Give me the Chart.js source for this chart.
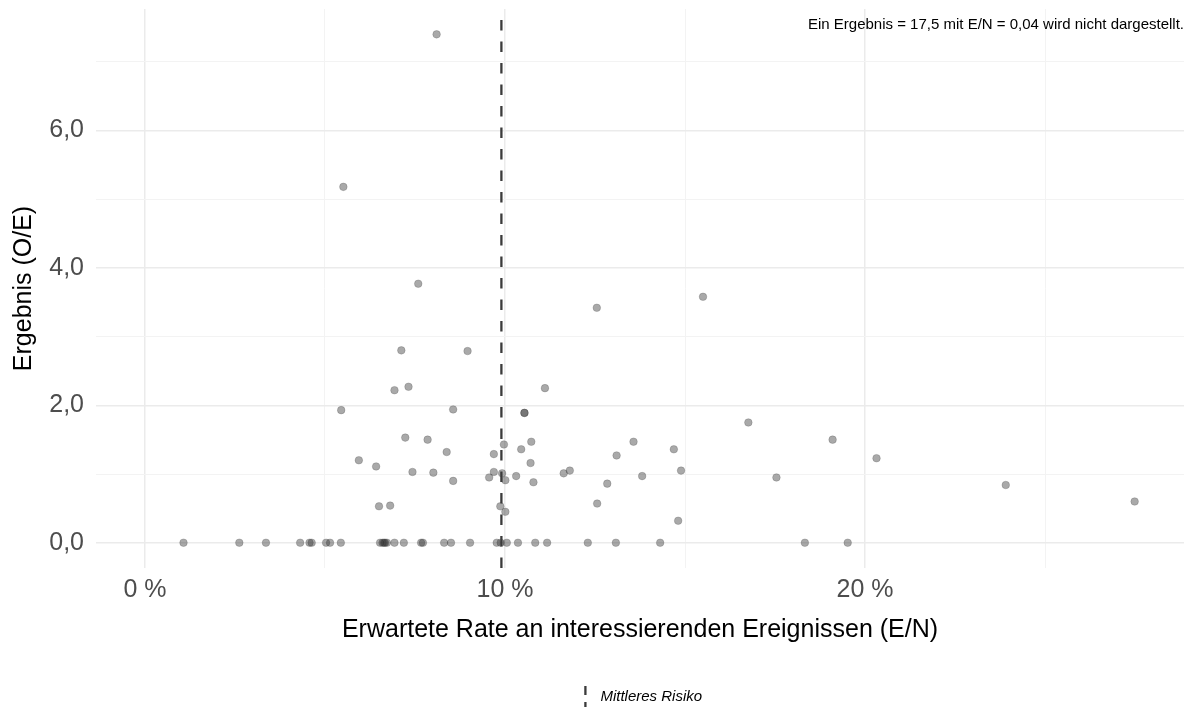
<!DOCTYPE html>
<html>
<head>
<meta charset="utf-8">
<script src="https://cdn.jsdelivr.net/npm/chart.js@4/dist/chart.umd.min.js"></script>
<style>
  body { margin: 0; background: #fff; }
  #wrap { position: relative; width: 1194px; height: 709px; }
</style>
</head>
<body>
<div id="wrap"><canvas id="scatterChart"></canvas></div>
<script>
// Erwartete Rate (E/N, in %) und Ergebnis (O/E)
var expectedRate = [
    8.10, 5.51, 7.59, 15.50, 12.55, 7.12, 8.96, 7.32, 6.93, 11.11,
    5.45, 8.56, 10.54, 10.54, 16.76, 7.23, 7.85, 19.10, 9.97, 10.73,
    13.57, 10.45, 14.69, 8.38, 9.69, 13.10, 20.32, 5.94, 10.71, 6.42,
    14.89, 11.80, 7.43, 9.69, 8.01, 11.63, 9.92, 10.31, 13.81, 9.56,
    17.54, 10.01, 8.56, 10.79, 12.84, 23.91, 27.49, 12.56, 6.81, 6.50,
    9.87, 10.01, 14.81,
    1.07, 2.62, 3.36, 4.31, 4.57, 4.63, 5.03, 5.14, 5.44, 6.53,
    6.60, 6.64, 6.67, 6.72, 6.93, 7.19, 7.67, 7.72, 8.31, 8.50,
    9.03, 9.77, 9.88, 10.05, 10.36, 10.84, 11.17, 12.30, 13.08, 14.31,
    18.33, 19.52
];
var outcome = [
    7.40, 5.18, 3.77, 3.58, 3.42, 2.80, 2.79, 2.27, 2.22, 2.25,
    1.93, 1.94, 1.89, 1.89, 1.75, 1.53, 1.50, 1.50, 1.43, 1.47,
    1.47, 1.36, 1.36, 1.32, 1.29, 1.27, 1.23, 1.20, 1.16, 1.11,
    1.05, 1.05, 1.03, 1.03, 1.02, 1.01, 1.01, 0.97, 0.97, 0.95,
    0.95, 0.91, 0.90, 0.88, 0.86, 0.84, 0.60, 0.57, 0.54, 0.53,
    0.53, 0.45, 0.32,
    0, 0, 0, 0, 0, 0, 0, 0, 0, 0,
    0, 0, 0, 0, 0, 0, 0, 0, 0, 0,
    0, 0, 0, 0, 0, 0, 0, 0, 0, 0,
    0, 0
];
var meanRisk = 9.9; // Mittleres Risiko

var xTickValues = [0, 5, 10, 15, 20, 25];
var xTickLabels = ['0 %', '', '10 %', '', '20 %', ''];
var yTickValues = [0, 1, 2, 3, 4, 5, 6, 7];
var yTickLabels = ['0,0', '', '2,0', '', '4,0', '', '6,0', ''];

var xMin = -1.361, xMax = 28.861;
var yMin = -0.368, yMax = 7.769;

var noteText = 'Ein Ergebnis = 17,5 mit E/N = 0,04 wird nicht dargestellt.';
var fontFam = '"Liberation Sans", Arial, sans-serif';

var points = [];
for (var i = 0; i < expectedRate.length; i++) {
    points.push({ x: expectedRate[i], y: outcome[i] });
}

function gridColor(c) {
    return (c.tick && c.tick.label !== '') ? '#ebebeb' : '#f3f3f3';
}
function gridWidth(c) {
    return (c.tick && c.tick.label !== '') ? 1.5 : 1;
}
function noPadding(axis) {
    axis.paddingTop = 0;
    axis.paddingBottom = 0;
    axis.paddingLeft = 0;
    axis.paddingRight = 0;
}

// note in the top right corner of the panel
var notePlugin = {
    id: 'note',
    afterDraw: function (chart) {
        var ctx = chart.ctx;
        ctx.save();
        ctx.font = '15px ' + fontFam;
        ctx.fillStyle = '#000';
        ctx.textAlign = 'right';
        ctx.textBaseline = 'middle';
        ctx.fillText(noteText, chart.chartArea.right, 25);
        ctx.restore();
    }
};

var ctx = document.getElementById('scatterChart').getContext('2d');
var chart = new Chart(ctx, {
    data: {
        datasets: [{
            type: 'scatter',
            label: 'Ergebnis',
            data: points,
            order: 2,
            pointRadius: 3.8,
            pointBackgroundColor: 'rgba(50,50,50,0.42)',
            pointBorderColor: 'rgba(50,50,50,0.42)',
            pointBorderWidth: 0.5
        }, {
            type: 'line',
            label: 'Mittleres Risiko',
            data: [{ x: meanRisk, y: yMin }, { x: meanRisk, y: yMax }],
            order: 1,
            borderColor: '#3b3b3b',
            borderWidth: 2.3,
            borderDash: [10.5, 11],
            pointRadius: 0,
            fill: false
        }]
    },
    options: {
        responsive: true,
        maintainAspectRatio: false,
        animation: false,
        events: [],
        layout: { padding: { top: 9, right: 10, left: 0, bottom: -5 } },
        plugins: {
            tooltip: { enabled: false },
            legend: {
                position: 'bottom',
                fullSize: false,
                labels: {
                    usePointStyle: true,
                    padding: 10,
                    color: '#000',
                    font: { family: fontFam, size: 15, style: 'italic' },
                    generateLabels: function () {
                        return [{
                            text: 'Mittleres Risiko',
                            pointStyle: 'line',
                            rotation: 90,
                            strokeStyle: '#3b3b3b',
                            fillStyle: '#3b3b3b',
                            lineWidth: 2.3,
                            lineDash: [9, 7],
                            fontColor: '#000',
                            datasetIndex: 1
                        }];
                    }
                }
            }
        },
        scales: {
            x: {
                type: 'linear',
                min: xMin,
                max: xMax,
                afterBuildTicks: function (axis) {
                    axis.ticks = xTickValues.map(function (v) { return { value: v }; });
                },
                afterFit: function (axis) { axis.height = 111; noPadding(axis); },
                border: { display: false },
                grid: { color: gridColor, lineWidth: gridWidth, drawTicks: false },
                ticks: {
                    autoSkip: false,
                    maxRotation: 0,
                    padding: 7,
                    color: '#4d4d4d',
                    font: { family: fontFam, size: 25 },
                    callback: function (value, index) { return xTickLabels[index]; }
                },
                title: {
                    display: true,
                    text: 'Erwartete Rate an interessierenden Ereignissen (E/N)',
                    color: '#000',
                    font: { family: fontFam, size: 25 },
                    padding: { top: 4, bottom: 34 }
                }
            },
            y: {
                type: 'linear',
                min: yMin,
                max: yMax,
                afterBuildTicks: function (axis) {
                    axis.ticks = yTickValues.map(function (v) { return { value: v }; });
                },
                afterFit: function (axis) { axis.width = 96; noPadding(axis); },
                border: { display: false },
                grid: { color: gridColor, lineWidth: gridWidth, drawTicks: false },
                ticks: {
                    autoSkip: false,
                    padding: 12,
                    color: '#4d4d4d',
                    font: { family: fontFam, size: 25 },
                    callback: function (value, index) { return yTickLabels[index]; }
                },
                title: {
                    display: true,
                    text: 'Ergebnis (O/E)',
                    color: '#000',
                    font: { family: fontFam, size: 25 },
                    padding: { top: 9, bottom: 0 }
                }
            }
        }
    },
    plugins: [notePlugin]
});
</script>
</body>
</html>
